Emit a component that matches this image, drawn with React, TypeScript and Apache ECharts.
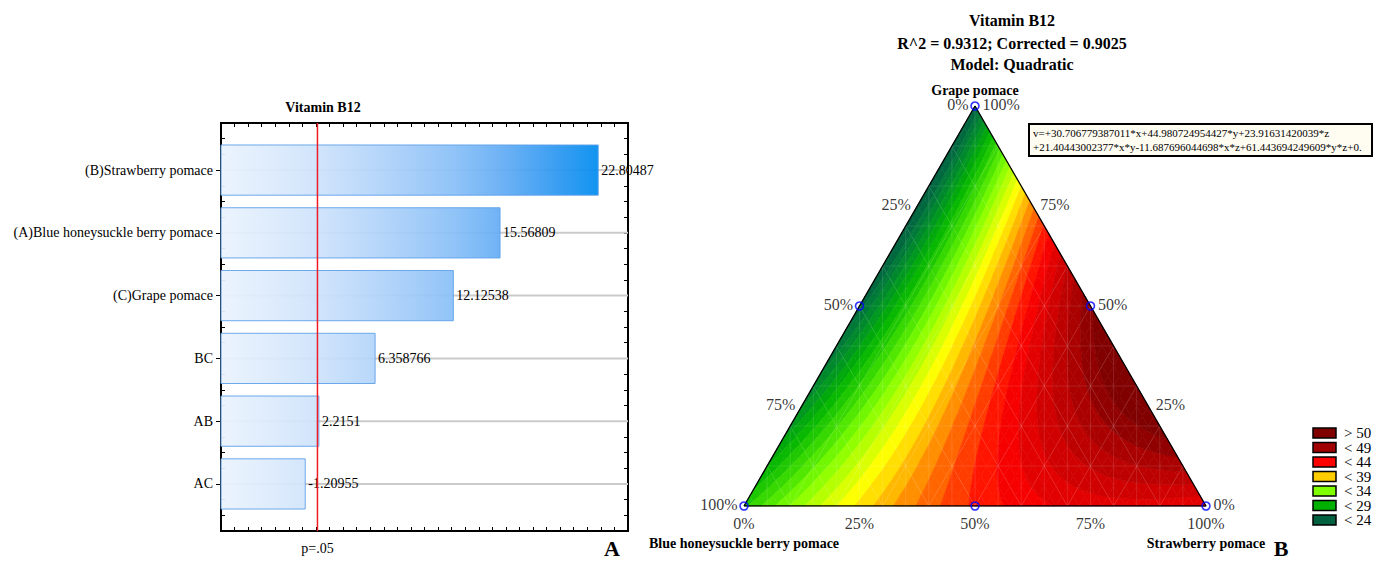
import React, { useEffect, useRef } from "react";
import * as echarts from "echarts";

const SERIF = '"Liberation Serif", "Times New Roman", serif';

// ---- Panel A: Pareto chart of standardized effects ----
const effectNames = [
  "(B)Strawberry pomace",
  "(A)Blue honeysuckle berry pomace",
  "(C)Grape pomace",
  "BC",
  "AB",
  "AC",
];
const effectValues = [22.80487, 15.56809, 12.12538, 6.358766, 2.2151, -1.20955];
const effectLabels = ["22.80487", "15.56809", "12.12538", "6.358766", "2.2151", "-1.20955"];
const pCritical = 2.11;
const effectMin = -5;
const effectMax = 25;

// ---- Panel B: fitted mixture surface (x = blue honeysuckle, y = strawberry, z = grape) ----
const linearCoef = [30.706779387011, 44.980724954427, 23.91631420039]; // x, y, z
const crossCoef = [21.40443002377, -11.687696044698, 61.443694249609]; // x*y, x*z, y*z
const designPoints = [
  [1, 0, 0],
  [0, 1, 0],
  [0, 0, 1],
  [0.5, 0.5, 0],
  [0.5, 0, 0.5],
  [0, 0.5, 0.5],
];
const edgeTicks = [0, 0.25, 0.5, 0.75, 1];
const paletteLevels = [24, 29, 34, 39, 44, 49, 50];
const paletteColors = ["#006040", "#00b000", "#80ff00", "#ffcc00", "#ff0000", "#a00000", "#800000"];
const legendLabels = ["> 50", "< 49", "< 44", "< 39", "< 34", "< 29", "< 24"];
const legendColors = ["#800000", "#a00000", "#ff0000", "#ffcc00", "#80ff00", "#00b000", "#006040"];
const bandStep = 1;
const meshDivisions = 40;

const H = Math.sqrt(3) / 2;

function model(x: number, y: number, z: number) {
  return (
    linearCoef[0] * x +
    linearCoef[1] * y +
    linearCoef[2] * z +
    crossCoef[0] * x * y +
    crossCoef[1] * x * z +
    crossCoef[2] * y * z
  );
}

// barycentric (blue, strawberry, grape) -> plane coordinates
function toXY(p: number[]) {
  return [p[1] + p[2] / 2, p[2] * H];
}

function hexToHsv(hex: string) {
  const r = parseInt(hex.slice(1, 3), 16) / 255;
  const g = parseInt(hex.slice(3, 5), 16) / 255;
  const b = parseInt(hex.slice(5, 7), 16) / 255;
  const max = Math.max(r, g, b);
  const min = Math.min(r, g, b);
  const d = max - min;
  let h = 0;
  if (d > 0) {
    if (max === r) h = 60 * (((g - b) / d) % 6);
    else if (max === g) h = 60 * ((b - r) / d + 2);
    else h = 60 * ((r - g) / d + 4);
  }
  if (h < 0) h += 360;
  return [h, max === 0 ? 0 : d / max, max];
}

function hsvToRgb(h: number, s: number, v: number) {
  const c = v * s;
  const x = c * (1 - Math.abs(((h / 60) % 2) - 1));
  const m = v - c;
  let r = 0, g = 0, b = 0;
  if (h < 60) [r, g, b] = [c, x, 0];
  else if (h < 120) [r, g, b] = [x, c, 0];
  else if (h < 180) [r, g, b] = [0, c, x];
  else if (h < 240) [r, g, b] = [0, x, c];
  else if (h < 300) [r, g, b] = [x, 0, c];
  else [r, g, b] = [c, 0, x];
  const f = (t: number) => Math.round((t + m) * 255);
  return `rgb(${f(r)},${f(g)},${f(b)})`;
}

const paletteHsv = paletteColors.map(hexToHsv);

function palette(v: number) {
  if (v <= paletteLevels[0]) return hsvToRgb(paletteHsv[0][0], paletteHsv[0][1], paletteHsv[0][2]);
  const last = paletteLevels.length - 1;
  if (v >= paletteLevels[last]) return hsvToRgb(paletteHsv[last][0], paletteHsv[last][1], paletteHsv[last][2]);
  let i = 0;
  while (v > paletteLevels[i + 1]) i++;
  const t = (v - paletteLevels[i]) / (paletteLevels[i + 1] - paletteLevels[i]);
  const a = paletteHsv[i];
  const b = paletteHsv[i + 1];
  return hsvToRgb(a[0] + (b[0] - a[0]) * t, a[1] + (b[1] - a[1]) * t, a[2] + (b[2] - a[2]) * t);
}

// clip a polygon of [X, Y, value] vertices against value >= level (above) or value <= level
function clipPoly(pts: number[][], level: number, above: boolean) {
  const out: number[][] = [];
  for (let i = 0; i < pts.length; i++) {
    const a = pts[i];
    const b = pts[(i + 1) % pts.length];
    const ina = above ? a[2] >= level : a[2] <= level;
    const inb = above ? b[2] >= level : b[2] <= level;
    if (ina) out.push(a);
    if (ina !== inb) {
      const t = (level - a[2]) / (b[2] - a[2]);
      out.push([a[0] + t * (b[0] - a[0]), a[1] + t * (b[1] - a[1]), level]);
    }
  }
  return out;
}

type Cell = { pts: number[][]; color: string; c: number[] };

function buildCells(): Cell[] {
  const N = meshDivisions;
  const cells: Cell[] = [];
  const vert = (j: number, r: number) => {
    const y = j / N;
    const z = r / N;
    const x = Math.max(0, 1 - y - z);
    const [X, Y] = toXY([x, y, z]);
    return [X, Y, model(x, y, z)];
  };
  const add = (tri: number[][]) => {
    const vs = tri.map((p) => p[2]);
    const lo = Math.floor(Math.min(...vs) / bandStep);
    const hi = Math.floor(Math.max(...vs) / bandStep);
    for (let k = lo; k <= hi; k++) {
      let poly = clipPoly(tri, k * bandStep, true);
      poly = clipPoly(poly, (k + 1) * bandStep, false);
      if (poly.length >= 3) {
        const cx = poly.reduce((s, p) => s + p[0], 0) / poly.length;
        const cy = poly.reduce((s, p) => s + p[1], 0) / poly.length;
        cells.push({ pts: poly.map((p) => [p[0], p[1]]), color: palette((k + 0.5) * bandStep), c: [cx, cy] });
      }
    }
  };
  for (let r = 0; r < N; r++) {
    for (let j = 0; j < N - r; j++) {
      add([vert(j, r), vert(j + 1, r), vert(j, r + 1)]);
      if (j < N - r - 1) add([vert(j + 1, r), vert(j + 1, r + 1), vert(j, r + 1)]);
    }
  }
  return cells;
}

// faint wireframe over the surface
function buildMeshLines() {
  const segs: number[][] = [];
  for (let k = 1; k < 20; k++) {
    const X = k / 20;
    segs.push([X, 0, X, 2 * H * Math.min(X, 1 - X)]);
  }
  for (let k = 1; k < 10; k++) {
    const Y = (H * k) / 10;
    segs.push([Y / (2 * H), Y, 1 - Y / (2 * H), Y]);
  }
  for (let k = 1; k < 10; k++) {
    const c = k / 10;
    const a = toXY([1 - c, c, 0]);
    const b = toXY([0, c, 1 - c]);
    segs.push([a[0], a[1], b[0], b[1]]);
    const d = toXY([c, 1 - c, 0]);
    const e = toXY([c, 0, 1 - c]);
    segs.push([d[0], d[1], e[0], e[1]]);
  }
  return segs;
}

const pct = (f: number) => `${Math.round(f * 100)}%`;
const signed = (c: number) => `${c >= 0 ? "+" : ""}${c}`;

function buildOption() {
  const cells = buildCells();
  const meshLines = buildMeshLines();
  const maxEffect = Math.max(...effectValues.map(Math.abs));

  const edgeLabelSeries = (
    items: [number[], string][],
    position: string,
    distance: number,
    offset: number[]
  ) => ({
    type: "scatter",
    xAxisIndex: 2,
    yAxisIndex: 3,
    symbolSize: 1,
    itemStyle: { color: "rgba(0,0,0,0)" },
    silent: true,
    z: 6,
    data: items.map(([p, text]) => ({ value: toXY(p), label: { formatter: text } })),
    label: { show: true, position, distance, offset, color: "#000", fontSize: 16, fontFamily: SERIF },
  });

  const noLine = { show: false, onZero: false };
  const quarterTicks = { show: true, inside: true, length: 4, lineStyle: { color: "#000", width: 1 } };

  const text = (x: number, y: number, t: string, font: string, align = "center") => ({
    type: "text",
    x,
    y,
    silent: true,
    style: {
      text: t,
      font,
      fill: "#000",
      align,
      verticalAlign: "middle",
      textAlign: align,
      textVerticalAlign: "middle",
    },
  });

  const eqLine1 = `v=${signed(linearCoef[0])}*x${signed(linearCoef[1])}*y${signed(linearCoef[2])}*z`;
  const eqLine2 = `${signed(crossCoef[0])}*x*y${signed(crossCoef[1])}*x*z${signed(crossCoef[2])}*y*z+0.`;

  const graphic: any[] = [
    text(323, 107, "Vitamin B12", `bold 14px ${SERIF}`),
    text(612, 548, "A", `bold 22px ${SERIF}`),
    text(1012, 20, "Vitamin B12", `bold 16px ${SERIF}`),
    text(1012, 43, "R^2 = 0.9312; Corrected = 0.9025", `bold 16px ${SERIF}`),
    text(1012, 64, "Model: Quadratic", `bold 16px ${SERIF}`),
    text(975, 90, "Grape pomace", `bold 14px ${SERIF}`),
    text(744, 543, "Blue honeysuckle berry pomace", `bold 14px ${SERIF}`),
    text(1206, 543, "Strawberry pomace", `bold 14px ${SERIF}`),
    text(1281, 548, "B", `bold 22px ${SERIF}`),
    {
      type: "rect",
      silent: true,
      shape: { x: 1029, y: 124, width: 343, height: 32 },
      style: { fill: "#fffcf2", stroke: "#000", lineWidth: 2 },
    },
    text(1033, 133, eqLine1, `11px ${SERIF}`, "left"),
    text(1033, 147, eqLine2, `11px ${SERIF}`, "left"),
  ];
  legendLabels.forEach((lab, i) => {
    graphic.push({
      type: "rect",
      silent: true,
      shape: { x: 1313, y: 428 + 14.5 * i, width: 23, height: 10 },
      style: { fill: legendColors[i], stroke: "#000", lineWidth: 1.5 },
    });
    graphic.push(text(1344, 433 + 14.5 * i, lab, `15px ${SERIF}`, "left"));
  });

  return {
    animation: false,
    backgroundColor: "#fff",
    grid: [
      { left: 221, top: 123, width: 407, height: 408, show: true, borderColor: "#000", borderWidth: 2, backgroundColor: "transparent" },
      { left: 744, top: 106, width: 462, height: 400, show: false },
    ],
    xAxis: [
      {
        gridIndex: 0,
        type: "value",
        position: "bottom",
        min: effectMin,
        max: effectMax,
        interval: 1,
        axisLine: noLine,
        axisTick: { show: true, inside: true, length: 4, lineStyle: { color: "#000" } },
        axisLabel: {
          customValues: [pCritical],
          formatter: () => "p=.05",
          margin: 10,
          fontSize: 14,
          fontFamily: SERIF,
          color: "#000",
        },
        splitLine: { show: false },
      },
      {
        gridIndex: 0,
        type: "value",
        position: "top",
        min: effectMin,
        max: effectMax,
        interval: 1,
        axisLine: noLine,
        axisTick: { show: true, inside: true, length: 4, lineStyle: { color: "#000" } },
        axisLabel: { show: false },
        splitLine: { show: false },
      },
      { gridIndex: 1, type: "value", min: 0, max: 1, show: false, axisLine: noLine },
    ],
    yAxis: [
      {
        gridIndex: 0,
        type: "value",
        inverse: true,
        min: -0.75,
        max: 5.75,
        position: "left",
        axisLine: noLine,
        axisTick: {
          show: true,
          inside: false,
          length: 5,
          customValues: effectNames.map((_, i) => i),
          lineStyle: { color: "#000" },
        },
        axisLabel: {
          customValues: effectNames.map((_, i) => i),
          formatter: (v: number) => effectNames[Math.round(v)] ?? "",
          fontSize: 14,
          fontFamily: SERIF,
          color: "#000",
          margin: 8,
        },
        splitLine: { show: false },
      },
      {
        gridIndex: 0,
        type: "value",
        inverse: true,
        min: -0.75,
        max: 5.75,
        interval: 0.25,
        position: "right",
        axisLine: noLine,
        axisTick: quarterTicks,
        axisLabel: { show: false },
        splitLine: { show: false },
      },
      {
        gridIndex: 0,
        type: "value",
        inverse: true,
        min: -0.75,
        max: 5.75,
        interval: 0.25,
        position: "left",
        axisLine: noLine,
        axisTick: quarterTicks,
        axisLabel: { show: false },
        splitLine: { show: false },
      },
      { gridIndex: 1, type: "value", min: 0, max: H, show: false, axisLine: noLine },
    ],
    graphic,
    series: [
      {
        type: "custom",
        xAxisIndex: 0,
        yAxisIndex: 0,
        silent: true,
        z: 2,
        encode: { x: 1, y: 0 },
        data: effectValues.map((v, i) => [i, Math.abs(v)]),
        renderItem: (params: any, api: any) => {
          const idx = params.dataIndex;
          const row = api.value(0);
          const val = api.value(1);
          const start = api.coord([effectMin, row]);
          const end = api.coord([val, row]);
          const h = api.size([0, 1])[1] * 0.8;
          const left = params.coordSys.x;
          const right = left + params.coordSys.width;
          const gradEnd = api.coord([maxEffect, row])[0];
          const fill = new echarts.graphic.LinearGradient(
            left,
            0,
            gradEnd,
            0,
            [
              { offset: 0, color: "#eaf3fd" },
              { offset: 0.25, color: "#cfe3fb" },
              { offset: 0.45, color: "#abd0f9" },
              { offset: 0.62, color: "#88bff7" },
              { offset: 0.76, color: "#5eaaf4" },
              { offset: 0.9, color: "#2896f1" },
              { offset: 1, color: "#008cef" },
            ],
            true
          );
          return {
            type: "group",
            children: [
              {
                type: "line",
                shape: { x1: left, y1: start[1], x2: right, y2: start[1] },
                style: { stroke: "#cbcbcb", lineWidth: 2 },
              },
              {
                type: "rect",
                shape: { x: start[0], y: start[1] - h / 2, width: end[0] - start[0], height: h },
                style: { fill, stroke: "#62a2ea", lineWidth: 1, opacity: 0.93 },
              },
              {
                type: "text",
                style: {
                  text: effectLabels[idx],
                  x: end[0] + 3,
                  y: start[1],
                  font: `14px ${SERIF}`,
                  fill: "#000",
                  verticalAlign: "middle",
                  textVerticalAlign: "middle",
                },
              },
            ],
          };
        },
      },
      {
        type: "line",
        xAxisIndex: 0,
        yAxisIndex: 0,
        silent: true,
        z: 5,
        symbol: "none",
        lineStyle: { color: "#ee1c25", width: 1.5 },
        data: [
          [pCritical, -0.75],
          [pCritical, 5.75],
        ],
      },
      {
        type: "custom",
        xAxisIndex: 2,
        yAxisIndex: 3,
        silent: true,
        z: 1,
        progressive: 0,
        clip: false,
        data: cells.map((c) => c.c),
        renderItem: (params: any, api: any) => {
          const cell = cells[params.dataIndex];
          return {
            type: "polygon",
            shape: { points: cell.pts.map((p) => api.coord(p)) },
            style: { fill: cell.color, stroke: cell.color, lineWidth: 0.6 },
          };
        },
      },
      {
        type: "custom",
        xAxisIndex: 2,
        yAxisIndex: 3,
        silent: true,
        z: 2,
        progressive: 0,
        clip: false,
        data: meshLines,
        renderItem: (params: any, api: any) => {
          const s = meshLines[params.dataIndex];
          const a = api.coord([s[0], s[1]]);
          const b = api.coord([s[2], s[3]]);
          return {
            type: "line",
            shape: { x1: a[0], y1: a[1], x2: b[0], y2: b[1] },
            style: { stroke: "rgba(255,255,255,0.16)", lineWidth: 0.8 },
          };
        },
      },
      {
        type: "line",
        xAxisIndex: 2,
        yAxisIndex: 3,
        silent: true,
        z: 3,
        symbol: "none",
        lineStyle: { color: "#000", width: 1.3 },
        data: [toXY([1, 0, 0]), toXY([0, 1, 0]), toXY([0, 0, 1]), toXY([1, 0, 0])],
      },
      {
        type: "scatter",
        xAxisIndex: 2,
        yAxisIndex: 3,
        silent: true,
        z: 7,
        symbol: "circle",
        symbolSize: 8,
        itemStyle: { color: "rgba(255,255,255,0)", borderColor: "#0000ff", borderWidth: 1.6 },
        data: designPoints.map(toXY),
      },
      edgeLabelSeries(
        edgeTicks.map((f) => [[f, 0, 1 - f], pct(f)] as [number[], string]),
        "left",
        6,
        [0, -2]
      ),
      edgeLabelSeries(
        edgeTicks.map((f) => [[0, 1 - f, f], pct(f)] as [number[], string]),
        "right",
        7,
        [0, -2]
      ),
      edgeLabelSeries(
        edgeTicks.map((f) => [[1 - f, f, 0], pct(f)] as [number[], string]),
        "bottom",
        9,
        [0, 0]
      ),
    ],
  };
}

export default function App() {
  const ref = useRef<HTMLDivElement>(null);
  useEffect(() => {
    document.body.style.margin = "0";
    const chart = echarts.init(ref.current as HTMLDivElement, null, { renderer: "svg" });
    chart.setOption(buildOption() as any);
    return () => chart.dispose();
  }, []);
  return <div ref={ref} style={{ width: 1383, height: 562 }} />;
}
